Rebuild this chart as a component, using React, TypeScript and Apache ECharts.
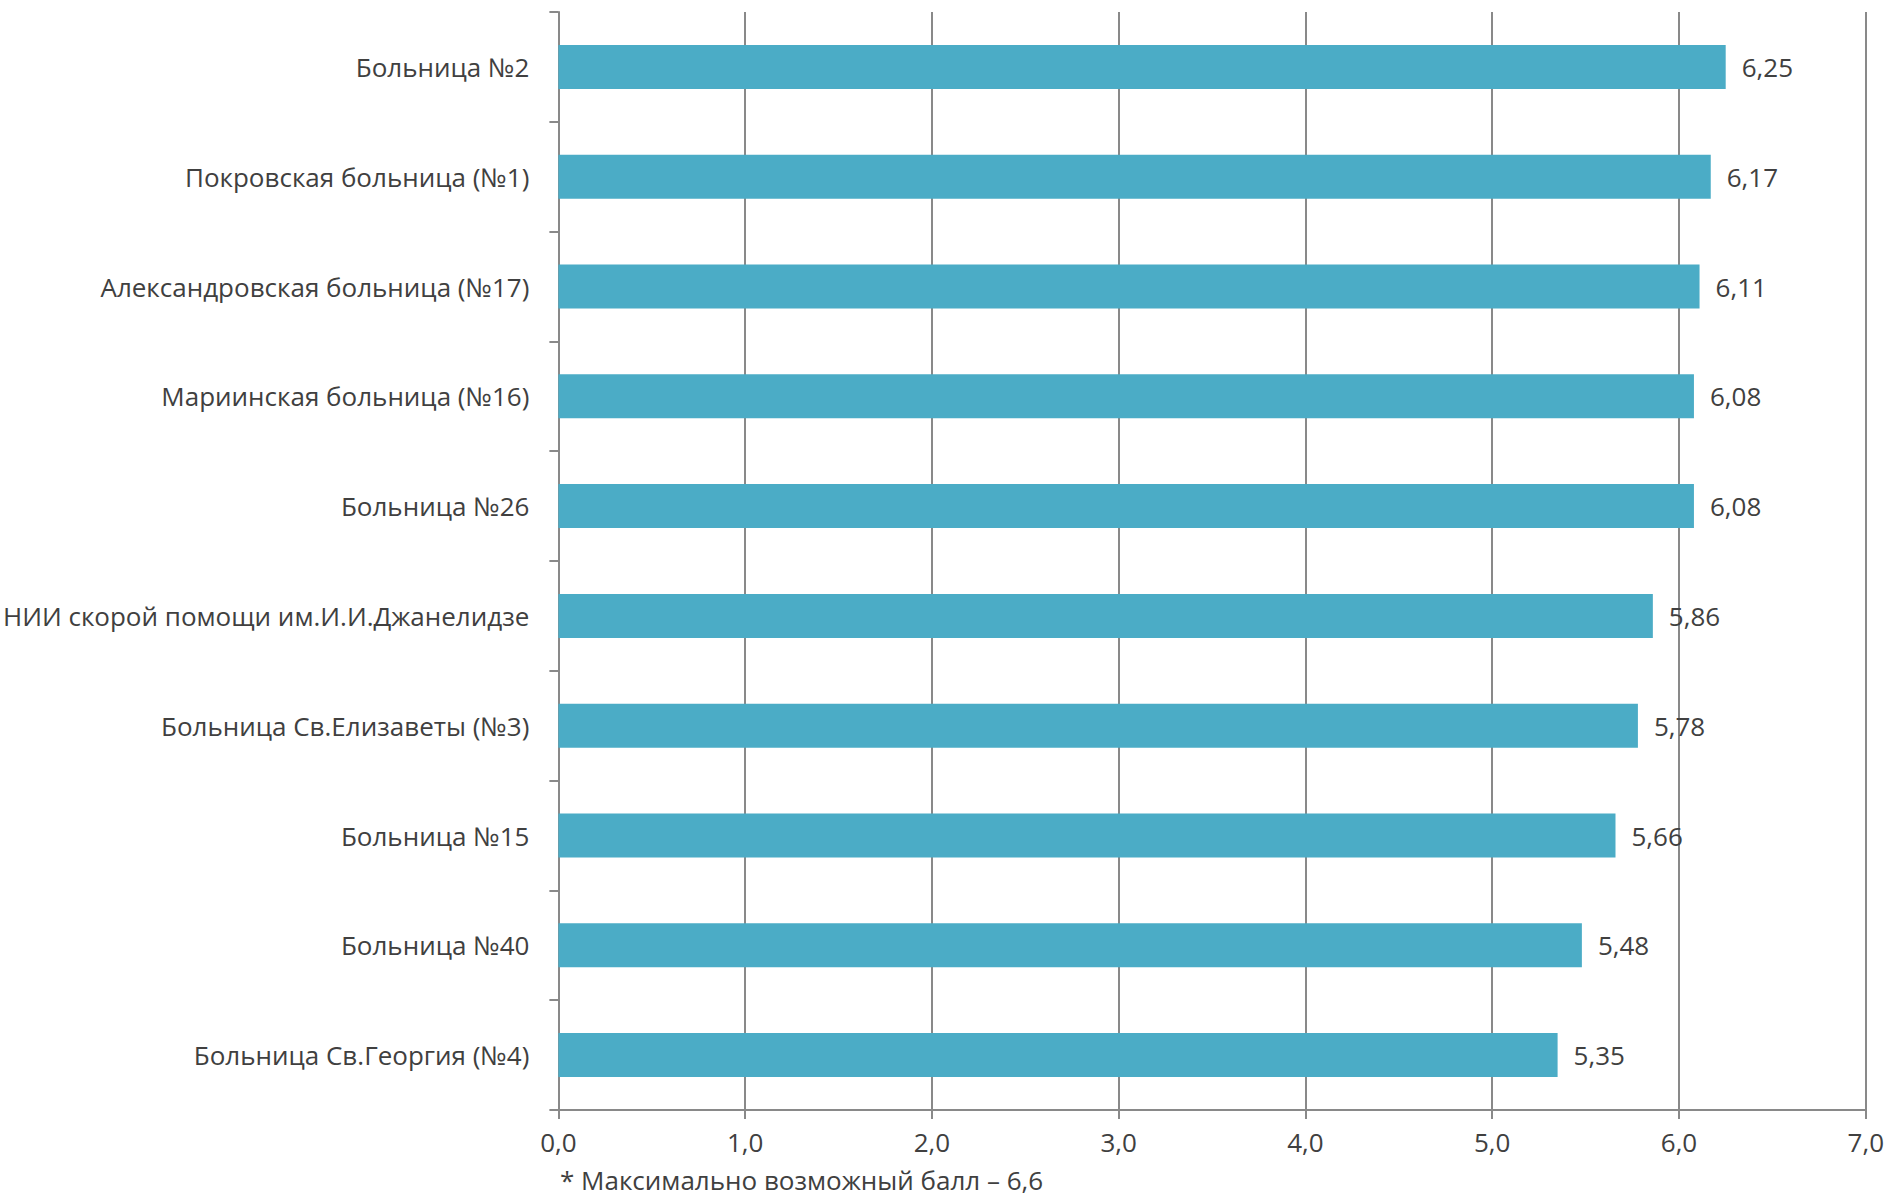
import React, { useEffect, useRef } from "react";
import * as echarts from "echarts";

const categories = [
  "Больница №2",
  "Покровская больница (№1)",
  "Александровская больница (№17)",
  "Мариинская больница (№16)",
  "Больница №26",
  "НИИ скорой помощи им.И.И.Джанелидзе",
  "Больница Св.Елизаветы (№3)",
  "Больница №15",
  "Больница №40",
  "Больница Св.Георгия (№4)",
];
const scores = [6.25, 6.17, 6.11, 6.08, 6.08, 5.86, 5.78, 5.66, 5.48, 5.35];
const footnote = "* Максимально возможный балл – 6,6";

const FONT = "'Open Sans', sans-serif";
const TEXT = "#404040";
const GRID = "#898989";
const FS = 26;

export default function App() {
  const ref = useRef<HTMLDivElement>(null);
  useEffect(() => {
    if (!ref.current) return;
    const chart = echarts.init(ref.current, undefined, { renderer: "svg" });
    chart.setOption({
      animation: false,
      backgroundColor: "#ffffff",
      textStyle: { fontFamily: FONT },
      grid: { left: 557, right: 21, top: 12, bottom: 89, containLabel: false },
      xAxis: {
        type: "value",
        min: 0,
        max: 7,
        interval: 1,
        axisLine: { show: true, lineStyle: { color: GRID, width: 2 } },
        axisTick: { show: true, length: 9, lineStyle: { color: GRID, width: 2 } },
        splitLine: { show: true, lineStyle: { color: GRID, width: 2 } },
        axisLabel: {
          margin: 19,
          fontSize: FS,
          color: TEXT,
          fontFamily: FONT,
          formatter: (v: number) => v.toFixed(1).replace(".", ","),
        },
      },
      yAxis: {
        type: "category",
        inverse: true,
        data: categories,
        axisLine: { show: true, lineStyle: { color: GRID, width: 2 } },
        axisTick: { show: true, length: 9, lineStyle: { color: GRID, width: 2 } },
        axisLabel: { margin: 29, fontSize: FS, color: TEXT, fontFamily: FONT },
      },
      series: [
        {
          type: "bar",
          data: scores,
          barWidth: 44,
          itemStyle: { color: "#4BACC6" },
          label: {
            show: true,
            position: "right",
            distance: 16,
            fontSize: FS,
            color: TEXT,
            fontFamily: FONT,
            formatter: (p: any) => Number(p.value).toFixed(2).replace(".", ","),
          },
        },
      ],
      graphic: [
        {
          type: "text",
          left: 560,
          top: 1167,
          style: { text: footnote, fontSize: FS, fill: TEXT, fontFamily: FONT },
        },
      ],
    });
    return () => chart.dispose();
  }, []);
  return (
    <div
      ref={ref}
      style={{ position: "fixed", left: 0, top: 0, width: 1887, height: 1199, background: "#fff" }}
    />
  );
}
